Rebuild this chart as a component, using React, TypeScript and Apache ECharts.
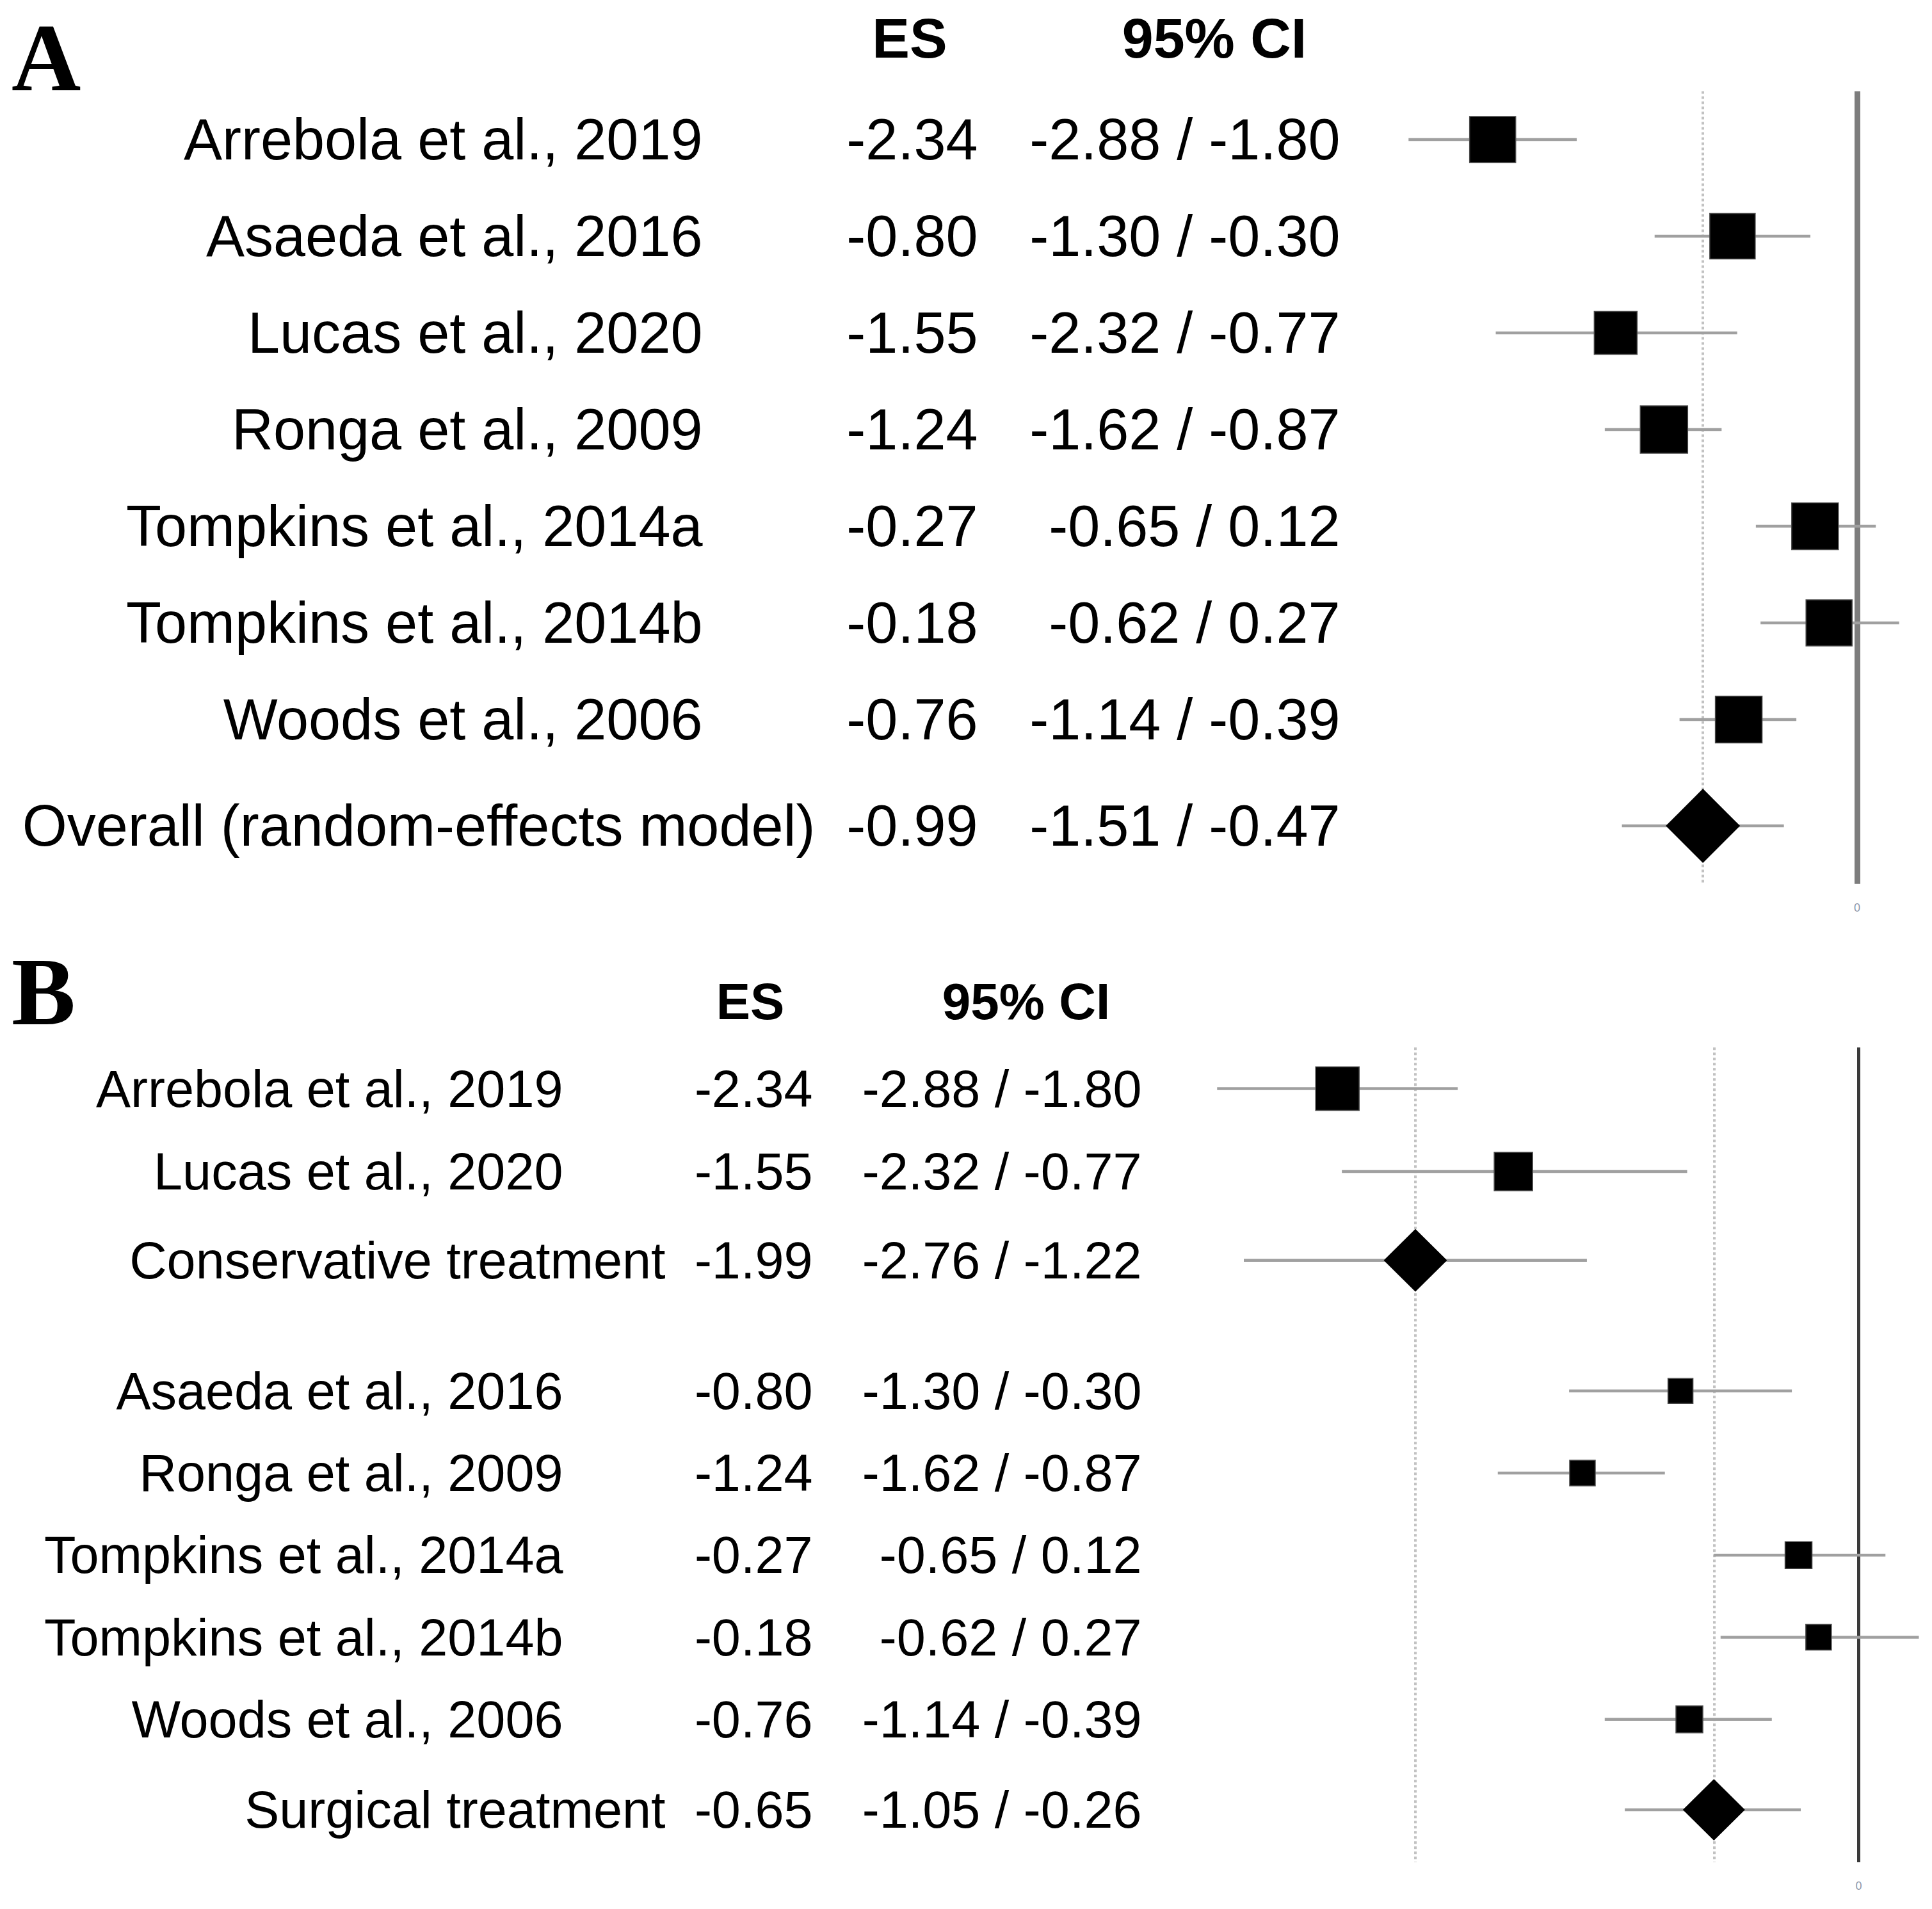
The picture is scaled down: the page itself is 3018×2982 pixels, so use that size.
import React, { useEffect, useRef } from "react";
import * as echarts from "echarts";

const W = 3018;
const H = 2982;

// ---------- Panel A data ----------
const studiesA = [
  "Arrebola et al., 2019",
  "Asaeda et al., 2016",
  "Lucas et al., 2020",
  "Ronga et al., 2009",
  "Tompkins et al., 2014a",
  "Tompkins et al., 2014b",
  "Woods et al., 2006",
];
const esA = [-2.34, -0.8, -1.55, -1.24, -0.27, -0.18, -0.76];
const loA = [-2.88, -1.3, -2.32, -1.62, -0.65, -0.62, -1.14];
const hiA = [-1.8, -0.3, -0.77, -0.87, 0.12, 0.27, -0.39];
const rowsA = [0, 1, 2, 3, 4, 5, 6];
const summaryNamesA = ["Overall (random-effects model)"];
const summaryEsA = [-0.99];
const summaryLoA = [-1.51];
const summaryHiA = [-0.47];
const summaryRowsA = [7.1];

// ---------- Panel B data ----------
const studiesB = [
  "Arrebola et al., 2019",
  "Lucas et al., 2020",
  "Asaeda et al., 2016",
  "Ronga et al., 2009",
  "Tompkins et al., 2014a",
  "Tompkins et al., 2014b",
  "Woods et al., 2006",
];
const esB = [-2.34, -1.55, -0.8, -1.24, -0.27, -0.18, -0.76];
const loB = [-2.88, -2.32, -1.3, -1.62, -0.65, -0.62, -1.14];
const hiB = [-1.8, -0.77, -0.3, -0.87, 0.12, 0.27, -0.39];
const rowsB = [0, 1.01, 3.68, 4.68, 5.68, 6.68, 7.68];
const summaryNamesB = ["Conservative treatment", "Surgical treatment"];
const summaryEsB = [-1.99, -0.65];
const summaryLoB = [-2.76, -1.05];
const summaryHiB = [-1.22, -0.26];
const summaryRowsB = [2.09, 8.78];

const headerLabels = ["ES", "95% CI"];
const zeroTick = ["0"];
const panelLetters = ["A", "B"];

// ---------- styling / layout (not data) ----------
const boxSizeA = [72, 71, 67, 74, 73, 72, 73];
const diamondSizeA = [[116, 116]];
const boxSizeB = [68, 60, 39, 40, 42, 40, 42];
const diamondSizeB = [[99, 98], [97, 96]];

const FONT = "Liberation Sans, Arial, sans-serif";
const SERIF = "Liberation Serif, Times New Roman, serif";

const layoutA = {
  xZero: 2901, xUnit: 243.3, xMin: -3, xMax: 0.3,
  row0: 218, rowUnit: 151, yMin: -0.5, yMax: 7.7,
  headerRow: -1.05,
  labelRight: 1098, summaryLabelRight: 1274, esRight: 1528, ciRight: 2094,
  esHeader: 1421, ciHeader: 1897,
  fontSize: 90, headerSize: 88,
  refColor: "#7d7d7d", refWidth: 9,
};
const layoutB = {
  xZero: 2903.5, xUnit: 348, xMin: -3, xMax: 0.3,
  row0: 1700.5, rowUnit: 128.3, yMin: -0.5, yMax: 9.42,
  headerRow: -1.06,
  labelRight: 880, summaryLabelRight: 1040, esRight: 1270, ciRight: 1784,
  esHeader: 1172, ciHeader: 1603,
  fontSize: 81, headerSize: 80,
  refColor: "#3a3a3a", refWidth: 5,
};

function buildPanel(
  L: any,
  gridBase: number,
  names: string[], es: number[], lo: number[], hi: number[], rows: number[],
  sNames: string[], sEs: number[], sLo: number[], sHi: number[], sRows: number[],
  boxes: number[], diamonds: number[][]
) {
  const top = L.row0 + L.yMin * L.rowUnit;
  const height = (L.yMax - L.yMin) * L.rowUnit;
  const plotLeft = L.xZero + L.xMin * L.xUnit;
  const plotWidth = (L.xMax - L.xMin) * L.xUnit;

  const grids = [
    { left: plotLeft, top, width: plotWidth, height },
    { left: 0, top, width: W, height },
  ];
  const xAxes = [
    {
      gridIndex: gridBase, type: "value", min: L.xMin, max: L.xMax, interval: 1,
      axisLine: { show: false }, axisTick: { show: false }, splitLine: { show: false },
      axisLabel: {
        show: true, margin: 28, fontSize: 18, color: "#8d96a8", fontFamily: FONT,
        formatter: (v: number) => (Math.abs(v) < 1e-9 ? zeroTick[0] : ""),
      },
    },
    { gridIndex: gridBase + 1, type: "value", min: 0, max: W, show: false },
  ];
  const yAxes = [
    { gridIndex: gridBase, type: "value", min: L.yMin, max: L.yMax, inverse: true, show: false },
    { gridIndex: gridBase + 1, type: "value", min: L.yMin, max: L.yMax, inverse: true, show: false },
  ];

  const ciData: number[][] = [];
  names.forEach((_, i) => ciData.push([lo[i], hi[i], rows[i]]));
  sNames.forEach((_, i) => ciData.push([sLo[i], sHi[i], sRows[i]]));

  const markData: any[] = [
    { xAxis: 0, lineStyle: { color: L.refColor, width: L.refWidth, type: "solid" } },
  ];
  sEs.forEach((v) =>
    markData.push({ xAxis: v, lineStyle: { color: "#c2c2c2", width: 4, type: "dotted" } })
  );

  const textData: any[] = [];
  const mk = (x: number, y: number, text: string, size: number, pos: string, bold = false) => ({
    value: [x, y],
    label: {
      show: true,
      formatter: text,
      position: pos,
      distance: 0,
      fontSize: size,
      fontWeight: bold ? "bold" : "normal",
      fontFamily: FONT,
      color: "#000",
      opacity: 1,
    },
  });
  names.forEach((n, i) => {
    textData.push(mk(L.labelRight, rows[i], n, L.fontSize, "left"));
    textData.push(mk(L.esRight, rows[i], es[i].toFixed(2), L.fontSize, "left"));
    textData.push(
      mk(L.ciRight, rows[i], `${lo[i].toFixed(2)} / ${hi[i].toFixed(2)}`, L.fontSize, "left")
    );
  });
  sNames.forEach((n, i) => {
    textData.push(mk(L.summaryLabelRight, sRows[i], n, L.fontSize, "left"));
    textData.push(mk(L.esRight, sRows[i], sEs[i].toFixed(2), L.fontSize, "left"));
    textData.push(
      mk(L.ciRight, sRows[i], `${sLo[i].toFixed(2)} / ${sHi[i].toFixed(2)}`, L.fontSize, "left")
    );
  });
  textData.push(mk(L.esHeader, L.headerRow, headerLabels[0], L.headerSize, "inside", true));
  textData.push(mk(L.ciHeader, L.headerRow, headerLabels[1], L.headerSize, "inside", true));

  const series: any[] = [
    {
      type: "custom",
      xAxisIndex: gridBase,
      yAxisIndex: gridBase,
      z: 1,
      silent: true,
      data: ciData,
      encode: { x: [0, 1], y: 2 },
      renderItem: (params: any, api: any) => {
        const p1 = api.coord([api.value(0), api.value(2)]);
        const p2 = api.coord([api.value(1), api.value(2)]);
        return {
          type: "line",
          shape: { x1: p1[0], y1: p1[1], x2: p2[0], y2: p2[1] },
          style: { stroke: "#a0a0a0", lineWidth: 4.5 },
        };
      },
      markLine: {
        silent: true,
        symbol: "none",
        label: { show: false },
        z: 0,
        data: markData,
      },
    },
    {
      type: "scatter",
      xAxisIndex: gridBase,
      yAxisIndex: gridBase,
      z: 3,
      silent: true,
      symbol: "rect",
      itemStyle: { color: "#000", opacity: 1, borderColor: "#4a4a4a", borderWidth: 1.5 },
      data: names.map((_, i) => ({ value: [es[i], rows[i]], symbolSize: boxes[i] })),
    },
    {
      type: "scatter",
      xAxisIndex: gridBase,
      yAxisIndex: gridBase,
      z: 3,
      silent: true,
      symbol: "diamond",
      itemStyle: { color: "#000", opacity: 1 },
      data: sNames.map((_, i) => ({ value: [sEs[i], sRows[i]], symbolSize: diamonds[i] })),
    },
    {
      type: "scatter",
      xAxisIndex: gridBase + 1,
      yAxisIndex: gridBase + 1,
      z: 4,
      silent: true,
      clip: false,
      symbolSize: 1,
      itemStyle: { color: "rgba(0,0,0,0)", opacity: 1 },
      data: textData,
    },
  ];
  return { grids, xAxes, yAxes, series };
}

function buildOption() {
  const a = buildPanel(
    layoutA, 0,
    studiesA, esA, loA, hiA, rowsA,
    summaryNamesA, summaryEsA, summaryLoA, summaryHiA, summaryRowsA,
    boxSizeA, diamondSizeA
  );
  const b = buildPanel(
    layoutB, 2,
    studiesB, esB, loB, hiB, rowsB,
    summaryNamesB, summaryEsB, summaryLoB, summaryHiB, summaryRowsB,
    boxSizeB, diamondSizeB
  );
  const letter = (text: string, y: number) => ({
    type: "text",
    x: 18,
    y,
    style: {
      text,
      fontSize: 150,
      fontWeight: "bold",
      fontFamily: SERIF,
      fill: "#000",
      align: "left",
      verticalAlign: "middle",
    },
  });
  return {
    animation: false,
    backgroundColor: "#ffffff",
    grid: [...a.grids, ...b.grids],
    xAxis: [...a.xAxes, ...b.xAxes],
    yAxis: [...a.yAxes, ...b.yAxes],
    series: [...a.series, ...b.series],
    graphic: [letter(panelLetters[0], 90), letter(panelLetters[1], 1549)],
  };
}

export default function App() {
  const ref = useRef<HTMLDivElement>(null);
  useEffect(() => {
    const chart = echarts.init(ref.current as HTMLDivElement, null, {
      renderer: "svg",
      width: W,
      height: H,
    });
    chart.setOption(buildOption() as any);
    return () => chart.dispose();
  }, []);
  return (
    <div
      ref={ref}
      style={{ position: "absolute", left: 0, top: 0, width: W, height: H, background: "#fff" }}
    />
  );
}
